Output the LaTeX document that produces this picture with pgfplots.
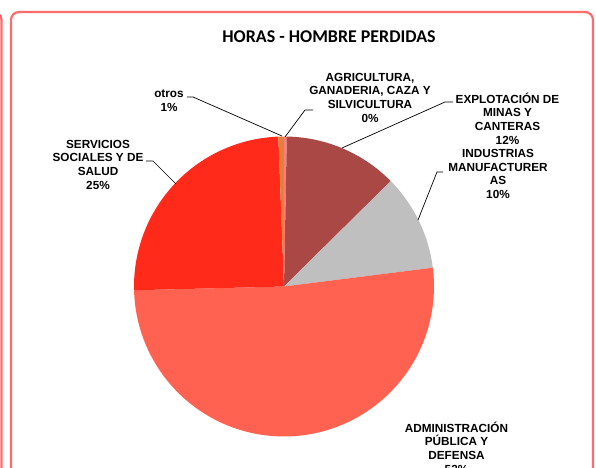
\documentclass[border=0pt]{standalone}
\usepackage{pgfplots}
\pgfplotsset{compat=1.18}
\usepackage{fontspec}
\setmainfont{Liberation Sans}
\newfontfamily\titlefont{Carlito}
\definecolor{cServ}{HTML}{FF2A1A}
\definecolor{cAdm}{HTML}{FF6251}
\definecolor{cMin}{HTML}{AA4845}
\definecolor{cInd}{HTML}{BFBFBF}
\definecolor{cOtr}{HTML}{E0823A}
\definecolor{cAgr}{HTML}{FF7A7A}
\definecolor{cBorder}{HTML}{FF6B6B}
% slice: start percent, end percent (cumulative, clockwise from 12 o'clock)
% agricultura 0.3, minas 12.3, industrias 10.4, administracion 51.6, servicios 24.8, otros 0.6
\newcommand{\slice}[3]{%
  \addplot[fill=#3, draw=none, domain={3.6*#1}:{3.6*#2}, samples=80, variable=\t]
    ({284+150*sin(\t)}, {286.5-150*cos(\t)}) -- (axis cs:284,286.5) -- cycle;}
\newcommand{\lab}{\fontsize{11.8}{13.7}\selectfont\bfseries}
\begin{document}
\begin{tikzpicture}
\path[use as bounding box] (0,0) rectangle (596bp,468bp);
\clip (0,0) rectangle (596bp,468bp);
\begin{axis}[at={(0,0)}, anchor=south west, scale only axis,
  width=596bp, height=468bp, xmin=0, xmax=596, ymin=0, ymax=468,
  y dir=reverse, hide axis, clip=false]
% panel borders
\draw[cBorder, line width=2.2bp, rounded corners=8bp] (axis cs:11,12) rectangle (axis cs:593,490);
\draw[cBorder, line width=2.2bp, rounded corners=8bp] (axis cs:-300,12) rectangle (axis cs:1.5,490);
% pie
\slice{0}{0.3}{cAgr}
\slice{0.3}{12.6}{cMin}
\slice{12.6}{23.0}{cInd}
\slice{23.0}{74.6}{cAdm}
\slice{74.6}{99.4}{cServ}
\slice{99.4}{100}{cOtr}
% leader lines
\addplot[black, line width=0.7bp] coordinates {(187,97) (193,97) (282,136)};
\addplot[black, line width=0.7bp] coordinates {(313,110) (305,110) (285,137)};
\addplot[black, line width=0.7bp] coordinates {(453,102) (445,102) (342,148)};
\addplot[black, line width=0.7bp] coordinates {(443,172) (437,172) (418,220)};
\addplot[black, line width=0.7bp] coordinates {(146,161) (153,161) (176,184)};
% title
\node[font=\titlefont\fontsize{18}{21}\selectfont\bfseries] at (axis cs:329,37) {HORAS - HOMBRE PERDIDAS};
% labels
\node[align=center, font=\lab] at (axis cs:169,101) {otros\\1\%};
\node[align=center, font=\lab] at (axis cs:370,97.5) {AGRICULTURA,\\GANADERIA, CAZA Y\\SILVICULTURA\\0\%};
\node[align=center, font=\lab] at (axis cs:507.5,118.6) {EXPLOTACIÓN DE\\MINAS Y\\CANTERAS\\12\%};
\node[align=center, font=\lab] at (axis cs:498,174) {INDUSTRIAS\\MANUFACTURER\\AS\\10\%};
\node[align=center, font=\lab] at (axis cs:98,164.6) {SERVICIOS\\SOCIALES Y DE\\SALUD\\25\%};
\node[align=center, font=\lab] at (axis cs:456.5,447.5) {ADMINISTRACIÓN\\PÚBLICA Y\\DEFENSA\\52\%};
\end{axis}
\end{tikzpicture}
\end{document}
